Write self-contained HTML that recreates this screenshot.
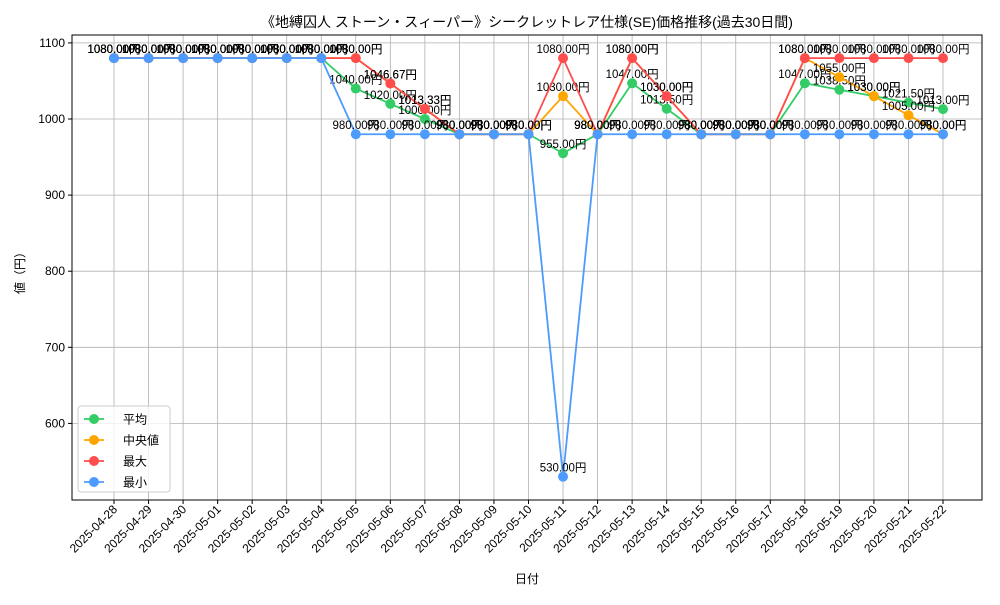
<!DOCTYPE html>
<html><head><meta charset="utf-8"><style>
body{margin:0;background:#fff}
svg text{font-family:"Liberation Sans","Noto Sans CJK JP",sans-serif}
</style></head><body>
<svg id="c" width="1000" height="600" xmlns="http://www.w3.org/2000/svg"></svg>
<script>
const dates=["2025-04-28","2025-04-29","2025-04-30","2025-05-01","2025-05-02","2025-05-03","2025-05-04","2025-05-05","2025-05-06","2025-05-07","2025-05-08","2025-05-09","2025-05-10","2025-05-11","2025-05-12","2025-05-13","2025-05-14","2025-05-15","2025-05-16","2025-05-17","2025-05-18","2025-05-19","2025-05-20","2025-05-21","2025-05-22"];
const avgVals=[1080,1080,1080,1080,1080,1080,1080,1040,1020,1000,980,980,980,955,980,1047,1013.5,980,980,980,1047,1038.5,1030,1021.5,1013];
const medVals=[1080,1080,1080,1080,1080,1080,1080,1080,1046.67,1013.33,980,980,980,1030,980,1080,1030,980,980,980,1080,1055,1030,1005,980];
const maxVals=[1080,1080,1080,1080,1080,1080,1080,1080,1046.67,1013.33,980,980,980,1080,980,1080,1030,980,980,980,1080,1080,1080,1080,1080];
const minVals=[1080,1080,1080,1080,1080,1080,1080,980,980,980,980,980,980,530,980,980,980,980,980,980,980,980,980,980,980];
const yTicks=[600,700,800,900,1000,1100];
const seriesNames=["平均","中央値","最大","最小"];
const seriesColors=["#33cc66","#ffa500","#ff4d4d","#4d9bff"];

const svg=document.getElementById('c');const NS="http://www.w3.org/2000/svg";
function mk(t,a,p){const e=document.createElementNS(NS,t);for(const k in a)e.setAttribute(k,a[k]);(p||svg).appendChild(e);return e;}
const L=72,R=982,T=35,B=500;
const x=i=>114+i*(943-114)/(dates.length-1);
const y=v=>119-(v-1000)*0.761;
// frame/grid
yTicks.forEach(v=>{
 const g=mk('line',{x1:L,x2:R,y1:y(v),y2:y(v),stroke:'#b0b0b0','stroke-width':0.8});
 
 mk('line',{x1:L-4,x2:L,y1:y(v),y2:y(v),stroke:'#000'});
 const t=mk('text',{x:L-7,y:y(v)+4,'text-anchor':'end','font-size':12});t.textContent=v;
 
});
dates.forEach((d,i)=>{
 const g=mk('line',{x1:x(i),x2:x(i),y1:T,y2:B,stroke:'#b0b0b0','stroke-width':0.8});
 
 mk('line',{x1:x(i),x2:x(i),y1:B,y2:B+4,stroke:'#000'});
 const t=mk('text',{x:x(i)+4,y:B+10,'text-anchor':'end','font-size':12,transform:`rotate(-45 ${x(i)+4} ${B+10})`});t.textContent=d;
 
});
const fr=mk('rect',{x:L,y:T,width:R-L,height:B-T,fill:'none',stroke:'#000','stroke-width':1});

[avgVals,medVals,maxVals,minVals].forEach((vals,s)=>{
 const c=seriesColors[s];
 const pl=mk('polyline',{points:vals.map((v,i)=>x(i)+','+y(v)).join(' '),fill:'none',stroke:c,'stroke-width':1.8});
 
 vals.forEach((v,i)=>{
  const p=mk('circle',{cx:x(i),cy:y(v),r:5,fill:c});
  
 });
 vals.forEach((v,i)=>{
  const t=mk('text',{x:x(i),y:y(v)-5,'text-anchor':'middle','font-size':11.5});t.textContent=v.toFixed(2)+'円';
  
 });
});
// legend
const lg=mk('g',{});
mk('rect',{x:78,y:406,width:92,height:86,rx:3,fill:'#fff','fill-opacity':0.8,stroke:'#ccc'},lg);
seriesNames.forEach((n,s)=>{
 const yy=419+s*21;
 mk('line',{x1:84,x2:104,y1:yy,y2:yy,stroke:seriesColors[s],'stroke-width':1.8},lg);
 mk('circle',{cx:94,cy:yy,r:5,fill:seriesColors[s]},lg);
 const t=mk('text',{x:123,y:yy+4.5,'font-size':12},lg);t.textContent=n;
 
});
const tt=mk('text',{x:527,y:27,'text-anchor':'middle','font-size':14});tt.textContent="《地縛囚人 ストーン・スィーパー》シークレットレア仕様(SE)価格推移(過去30日間)";

const xl=mk('text',{x:527,y:583,'text-anchor':'middle','font-size':12});xl.textContent="日付";

const yl=mk('text',{x:24,y:270,'text-anchor':'middle','font-size':12,transform:'rotate(-90 24 270)'});yl.textContent="値（円）";

</script>
</body></html>
